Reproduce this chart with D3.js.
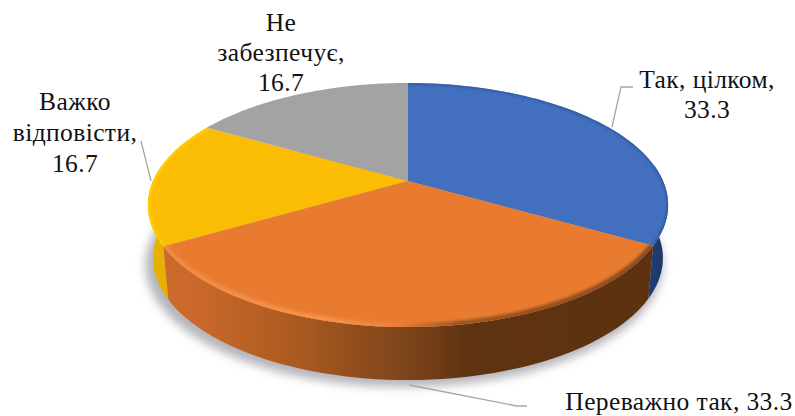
<!DOCTYPE html>
<html><head><meta charset="utf-8">
<script src="https://cdn.jsdelivr.net/npm/d3@7"></script>
<style>html,body{margin:0;background:#fff}svg{display:block}</style>
</head><body><svg id="c" width="795" height="416"></svg>
<script>
const categories=["Так, цілком","Переважно так","Важко відповісти","Не забезпечує"];
const values=[33.3,33.3,16.7,16.7];
const labelLines=[["Так, цілком,","33.3"],["Переважно так, 33.3"],["Важко","відповісти,","16.7"],["Не","забезпечує,","16.7"]];
const colors=["#4270bf","#e97b31","#fbbc04","#a3a3a3"];

const svg=d3.select("#c"),defs=svg.append("defs");
const cx=408,cy=181,A=255,B=117.3,k=0.197,depth=53,shrink=0.98;
const project=a=>{const u=Math.sin(a),v=-Math.cos(a),w=1-k*v;return [cx+A*u/w,cy+B*v/w];};
const lower=([x,y])=>[cx+(x-cx)*shrink,y+depth];
const arcs=d3.pie().sort(null).value(d=>d)(values);
const samples=(a,b)=>d3.range(0,61).map(i=>a+(b-a)*i/60);
const line=d3.line();

defs.append("filter").attr("id","sh").attr("x","-20%").attr("y","-20%").attr("width","140%").attr("height","140%")
  .append("feGaussianBlur").attr("stdDeviation",5);
defs.append("filter").attr("id","bev").attr("x","-20%").attr("y","-20%").attr("width","140%").attr("height","140%")
  .append("feGaussianBlur").attr("stdDeviation",1.8);

function grad(id,stops){
  const g=defs.append("linearGradient").attr("id",id).attr("gradientUnits","userSpaceOnUse")
    .attr("x1",148).attr("x2",668).attr("y1",0).attr("y2",0);
  stops.forEach(([o,c])=>g.append("stop").attr("offset",o).attr("stop-color",c));
}
grad("gOrange",[[0,"#cf6c2a"],[.1,"#c9682a"],[.3,"#a8591f"],[.5,"#7c431a"],[.62,"#5f3311"],[1,"#5c3212"]]);
grad("gBlue",[[0,"#2a4a85"],[.93,"#2a4a85"],[.97,"#1e3c70"],[1,"#1c3767"]]);
grad("gYellow",[[0,"#e9b300"],[.05,"#e3ae00"],[1,"#c89800"]]);
grad("gBevel",[[0,"#f08a42"],[.35,"#f8934c"],[.48,"#e8803a"],[.6,"#9a5220"],[1,"#8a4a1c"]]);
const sideFill=["url(#gBlue)","url(#gOrange)","url(#gYellow)",null];

// soft ground shadow, following the lower rim
const all=samples(0,2*Math.PI).map(project).map(lower).map(([x,y])=>[cx+(x-cx)*1.015-4,y+7]);
svg.append("path").attr("d",line(all)+"Z").attr("fill","#b4b4ba").attr("filter","url(#sh)");

// sides: only the part of each slice rim facing the viewer
const fringe=Math.PI/2-0.14;
[0,2,1].forEach(i=>{
  const d=arcs[i];
  const a=Math.max(d.startAngle,fringe),b=Math.min(d.endAngle,2*Math.PI-fringe);
  if(b<=a)return;
  const top=samples(a,b).map(project);
  const bot=top.map(lower).reverse();
  svg.append("path").attr("d",line(top.concat(bot))+"Z").attr("fill",sideFill[i]);
});

// top faces
const wedge=d=>line([[cx,cy],...samples(d.startAngle,d.endAngle).map(project)])+"Z";
[0,2,3,1].forEach(i=>{
  svg.append("path").attr("d",wedge(arcs[i])).attr("fill",colors[i]);
});

// bevels on rims
arcs.forEach((d,i)=>{
  if(i===3)return;
  const id="clip"+i;
  defs.append("clipPath").attr("id",id).append("path").attr("d",wedge(d));
  const rim=samples(d.startAngle,d.endAngle).map(project);
  svg.append("g").attr("clip-path",`url(#${id})`).append("path")
    .attr("d",line(rim)).attr("fill","none")
    .attr("stroke",i===1?"url(#gBevel)":i===0?"#2f5597":"#ffd400")
    .attr("stroke-width",i===1?8:i===0?3:4)
    .attr("filter","url(#bev)");
});

// leader lines
const leaders=[[[612,127],[621,87],[633,87]],[[409,385],[517,406],[527,406]],[[141,141],[151,181]]];
svg.append("g").selectAll("path").data(leaders).join("path")
  .attr("d",d=>line(d)).attr("fill","none").attr("stroke","#a6a6a6").attr("stroke-width",1.3);

// labels
const labelPos=[[707,87.5],[679,410],[75,110],[281,31]];
const lineStep=[30.5,0,31,30];
labelLines.forEach((ls,i)=>{
  const t=svg.append("text").attr("text-anchor","middle")
    .style("font-family","'Times New Roman','Liberation Serif',Tinos,'DejaVu Serif',serif")
    .style("font-size","25.5px").style("letter-spacing","0.4px").style("fill","#111");
  ls.forEach((s,j)=>t.append("tspan").attr("x",labelPos[i][0]).attr("y",labelPos[i][1]+j*lineStep[i]).text(s));
});
</script></body></html>
